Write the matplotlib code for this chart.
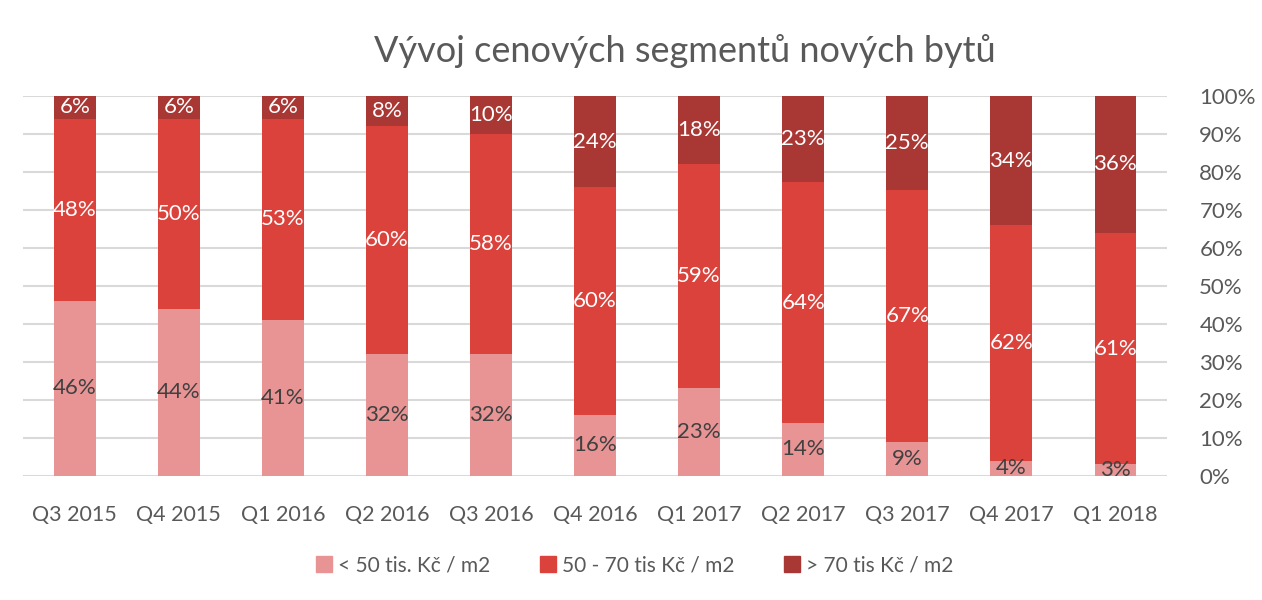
import numpy as np
import matplotlib
matplotlib.use('Agg')
from matplotlib import pyplot as plt
from matplotlib.patches import Patch

plt.rcParams['font.family'] = ['Lato', 'DejaVu Sans']

# data
quarters = ['Q3 2015', 'Q4 2015', 'Q1 2016', 'Q2 2016', 'Q3 2016', 'Q4 2016',
            'Q1 2017', 'Q2 2017', 'Q3 2017', 'Q4 2017', 'Q1 2018']
low = [46, 44, 41, 32, 32, 16, 23, 14, 9, 4, 3]
mid = [48, 50, 53, 60, 58, 60, 59, 64, 67, 62, 61]
high = [6, 6, 6, 8, 10, 24, 18, 23, 25, 34, 36]
series_names = ['< 50 tis. Kč / m2', '50 - 70 tis Kč / m2', '> 70 tis Kč / m2']
colors = ['#E89494', '#DB423C', '#A93835']
label_colors = ['#404040', 'white', 'white']

title = 'Vývoj cenových segmentů nových bytů'
grey = '#595959'

fig = plt.figure(figsize=(12.62, 6), dpi=100)
ax = fig.add_axes([0.018, 0.207, 0.907, 0.633])

vals = np.array([low, mid, high], dtype=float)
totals = vals.sum(axis=0)
shares = vals / totals * 100
x = np.arange(len(quarters))
bottom = np.zeros(len(quarters))
for i in range(3):
    ax.bar(x, shares[i], 0.4, bottom=bottom, color=colors[i], zorder=3)
    for j in range(len(quarters)):
        ax.text(x[j], bottom[j] + shares[i][j] / 2, '{:d}%'.format(int(vals[i][j])),
                ha='center', va='center', fontsize=16, color=label_colors[i],
                zorder=4)
    bottom += shares[i]

ax.set_xlim(-0.5, len(quarters) - 0.5)
ax.set_ylim(0, 100)
ax.set_yticks(np.arange(0, 101, 10))
ax.set_yticklabels(['{}%'.format(v) for v in range(0, 101, 10)])
ax.yaxis.tick_right()
ax.set_xticks(x)
ax.set_xticklabels(quarters)
ax.tick_params(axis='both', length=0, labelsize=15.5, colors=grey)
ax.tick_params(axis='y', pad=23, labelsize=16)
ax.tick_params(axis='x', pad=21)
for s in ax.spines.values():
    s.set_visible(False)
ax.grid(axis='y', color='#D9D9D9', linewidth=1.5, zorder=0)

fig.text(0.543, 0.915, title, ha='center', va='center', fontsize=26, color=grey)

handles = [Patch(color=c, label=n) for c, n in zip(colors, series_names)]
fig.legend(handles=handles, loc='center', bbox_to_anchor=(0.503, 0.058), ncol=3,
           frameon=False, fontsize=15, labelcolor=grey, handlelength=0.75,
           handleheight=0.75, handletextpad=0.3, columnspacing=2.4)

fig.savefig('out.png', dpi=100)
